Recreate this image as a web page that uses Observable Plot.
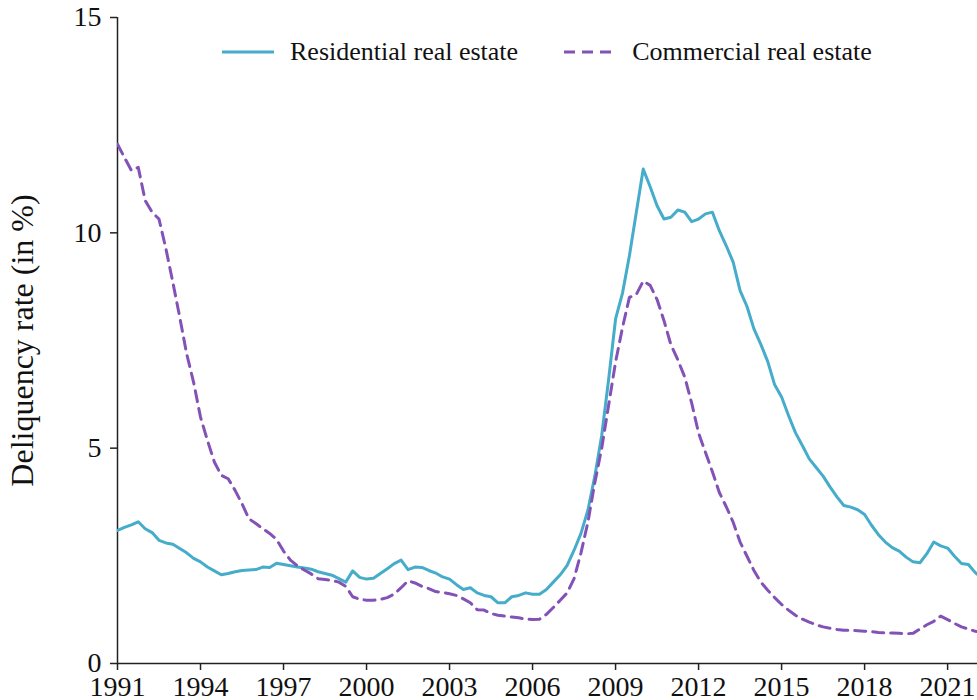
<!DOCTYPE html>
<html>
<head>
<meta charset="utf-8">
<script src="https://cdn.jsdelivr.net/npm/d3@7"></script>
<script src="https://cdn.jsdelivr.net/npm/@observablehq/plot@0.6"></script>
<style>
  html, body { margin: 0; padding: 0; background: #fff; }
  #wrap { position: relative; width: 977px; height: 700px; overflow: hidden; font-family: "Liberation Serif", "Times New Roman", serif; }
  #legend { position: absolute; top: 37px; left: 222px; display: flex; align-items: center; font-size: 26px; color: #111; white-space: nowrap; }
  #legend .item { display: flex; align-items: center; }
  #legend svg { margin-right: 16px; }
</style>
</head>
<body>
<div id="wrap">
  <div id="chart"></div>
  <div id="legend"></div>
</div>
<script>
// Quarterly observations, first quarter 1991 onward
const startYear = 1991;
const seriesNames = ["Residential real estate", "Commercial real estate"];
const seriesColors = ["#45acc9", "#8352b6"];
const residential = [
  3.09, 3.16, 3.22, 3.29, 3.13, 3.04, 2.86, 2.80, 2.77, 2.67, 2.57, 2.44,
  2.36, 2.24, 2.15, 2.06, 2.09, 2.13, 2.16, 2.17, 2.18, 2.24, 2.23, 2.33,
  2.30, 2.27, 2.24, 2.22, 2.19, 2.13, 2.09, 2.05, 1.97, 1.89, 2.15, 2.00,
  1.96, 1.98, 2.09, 2.20, 2.32, 2.40, 2.18, 2.24, 2.23, 2.16, 2.10, 2.01,
  1.96, 1.83, 1.72, 1.76, 1.64, 1.58, 1.55, 1.41, 1.41, 1.55, 1.58, 1.64,
  1.61, 1.61, 1.72, 1.89, 2.06, 2.28, 2.63, 3.02, 3.56, 4.35, 5.30, 6.60,
  8.00, 8.60, 9.47, 10.48, 11.48, 11.07, 10.63, 10.32, 10.36, 10.53, 10.48, 10.26,
  10.32, 10.44, 10.48, 10.05, 9.70, 9.32, 8.66, 8.29, 7.77, 7.41, 7.01, 6.47,
  6.19, 5.76, 5.36, 5.06, 4.75, 4.55, 4.35, 4.10, 3.87, 3.67, 3.63, 3.57,
  3.46, 3.21, 2.99, 2.82, 2.69, 2.61, 2.47, 2.36, 2.34, 2.55, 2.82, 2.73,
  2.68, 2.49, 2.32, 2.30, 2.11, 1.98
];
const commercial = [
  12.06, 11.75, 11.45, 11.52, 10.75, 10.48, 10.32, 9.63, 8.85, 8.04, 7.19, 6.53,
  5.72, 5.18, 4.68, 4.37, 4.29, 4.02, 3.71, 3.36, 3.25, 3.13, 3.02, 2.88,
  2.61, 2.40, 2.27, 2.17, 2.08, 1.97, 1.95, 1.93, 1.89, 1.79, 1.55, 1.49,
  1.47, 1.47, 1.49, 1.53, 1.61, 1.76, 1.92, 1.87, 1.79, 1.74, 1.67, 1.65,
  1.62, 1.58, 1.50, 1.41, 1.25, 1.24, 1.16, 1.12, 1.10, 1.08, 1.06, 1.03,
  1.02, 1.03, 1.14, 1.30, 1.47, 1.64, 1.97, 2.57, 3.28, 4.20, 5.00, 6.00,
  7.00, 7.80, 8.50, 8.57, 8.88, 8.78, 8.45, 7.96, 7.40, 7.05, 6.65, 6.05,
  5.35, 4.90, 4.45, 3.97, 3.64, 3.28, 2.82, 2.49, 2.16, 1.89, 1.70, 1.53,
  1.37, 1.24, 1.12, 1.03, 0.96, 0.90, 0.85, 0.82, 0.79, 0.77, 0.77, 0.76,
  0.75, 0.74, 0.72, 0.71, 0.71, 0.70, 0.69, 0.70, 0.80, 0.90, 0.98, 1.10,
  1.02, 0.93, 0.85, 0.80, 0.75, 0.73
];
const xTicks = [1991, 1994, 1997, 2000, 2003, 2006, 2009, 2012, 2015, 2018, 2021];
const yTicks = [0, 5, 10, 15];
const xDomain = [1991, 2022.08];
const yDomain = [0, 15];
const yLabel = "Deliquency rate (in %)";

const resData = residential.map((v, i) => ({t: startYear + i / 4, v}));
const comData = commercial.map((v, i) => ({t: startYear + i / 4, v}));

const font = "'Liberation Serif', 'Times New Roman', serif";

const chart = Plot.plot({
  width: 977,
  height: 700,
  marginLeft: 117,
  marginRight: 0,
  marginTop: 17,
  marginBottom: 37,
  style: {fontFamily: font, background: "#fff", color: "#111", overflow: "visible"},
  x: {domain: xDomain, ticks: xTicks},
  y: {domain: yDomain, ticks: yTicks},
  marks: [
    Plot.axisX({ticks: xTicks, tickFormat: d => String(d), tickSize: 7, tickPadding: 6, fontSize: 28, label: null, stroke: "#222", strokeWidth: 1.5}),
    Plot.axisY({ticks: yTicks, tickFormat: d => String(d), tickSize: 7, tickPadding: 9, fontSize: 28, label: null, stroke: "#222", strokeWidth: 1.5}),
    Plot.ruleX([xDomain[0]], {stroke: "#222", strokeWidth: 1.5}),
    Plot.ruleY([yDomain[0]], {stroke: "#222", strokeWidth: 1.5}),
    Plot.line(resData, {x: "t", y: "v", stroke: seriesColors[0], strokeWidth: 3, clip: true}),
    Plot.line(comData, {x: "t", y: "v", stroke: seriesColors[1], strokeWidth: 3, strokeDasharray: "11,7", clip: true}),
    Plot.text([yLabel], {frameAnchor: "left", textAnchor: "middle", lineAnchor: "middle", rotate: -90, dx: -95, fontSize: 32, fill: "#111"})
  ]
});
document.getElementById("chart").appendChild(chart);

// Legend
const legend = document.getElementById("legend");
seriesNames.forEach((name, i) => {
  const item = document.createElement("div");
  item.className = "item";
  if (i > 0) item.style.marginLeft = "46px";
  const dash = i === 1 ? 'stroke-dasharray="11,7"' : "";
  item.innerHTML = `<svg width="52" height="10"><line x1="0" x2="52" y1="5" y2="5" stroke="${seriesColors[i]}" stroke-width="3" ${dash}/></svg><span>${name}</span>`;
  legend.appendChild(item);
});
</script>
</body>
</html>
